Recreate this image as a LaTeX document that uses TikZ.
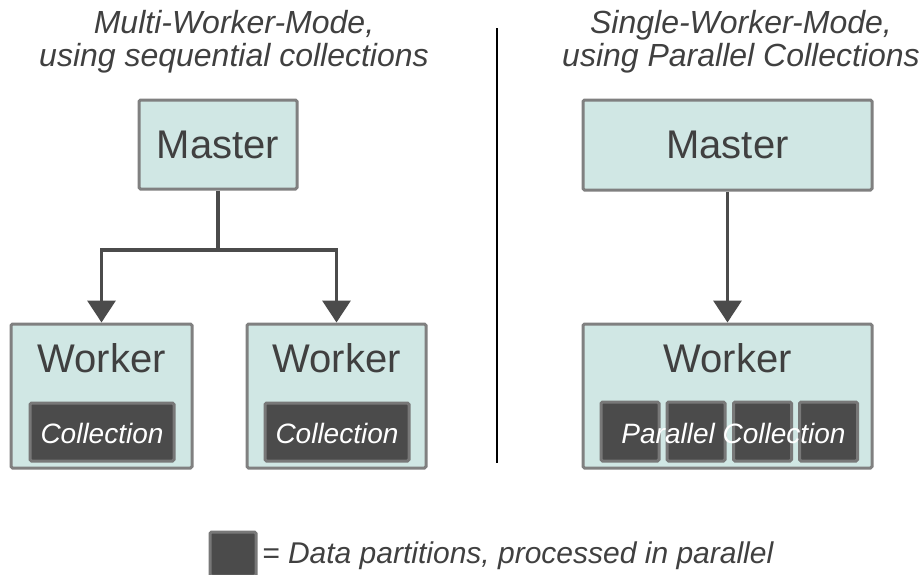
\documentclass[tikz,border=0pt]{standalone}
\usepackage{fontspec}
\setmainfont{Liberation Sans}
\usetikzlibrary{arrows.meta}
\definecolor{boxfill}{HTML}{D0E7E4}
\definecolor{boxline}{HTML}{808080}
\definecolor{partfill}{HTML}{4B4B4B}
\definecolor{partline}{HTML}{787878}
\definecolor{ink}{HTML}{404040}
\definecolor{wire}{HTML}{4B4B4B}
\tikzset{
  unitbox/.style={draw=boxline, fill=boxfill, line width=3pt, rounded corners=1.5pt,
    inner sep=0pt, text=ink, font=\fontsize{40}{48}\selectfont},
  partbox/.style={draw=partline, fill=partfill, line width=3pt, rounded corners=1.5pt, inner sep=0pt},
  boxlabel/.style={text=ink, font=\fontsize{40}{48}\selectfont, anchor=base, inner sep=0pt},
  partlabel/.style={text=white, font=\fontsize{28}{34}\selectfont\itshape, anchor=base, inner sep=0pt},
  heading/.style={text=ink, font=\fontsize{32}{33}\selectfont\itshape, align=center, inner sep=0pt},
  flow/.style={draw=wire, line width=3.5pt},
  flowarrow/.style={flow, -{Triangle[width=28pt,length=22pt]}},
}
\begin{document}
\begin{tikzpicture}[x=1pt, y=-1pt]
\useasboundingbox (0,0) rectangle (922,574);

% headings (base anchor sits on the second line)
\node[heading, anchor=base] (hL) at (234,66) {Multi-Worker-Mode,\\using sequential collections};
\node[heading, anchor=base] (hR) at (741,66) {Single-Worker-Mode,\\using Parallel Collections};

% divider
\coordinate (dTop) at (497,28);
\coordinate (dBot) at (497,463);
\draw[line width=1.2pt, black] (dTop) -- (dBot);

% left side: one master, two workers
\node[unitbox, minimum width=158pt, minimum height=89pt] (mL) at (218,144.5) {Master};
\node[unitbox, minimum width=181pt, minimum height=144pt] (wA) at (101.5,396) {};
\node[unitbox, minimum width=179pt, minimum height=144pt] (wB) at (336.5,396) {};
\node[boxlabel] (tA) at (101.5,372) {Worker};
\node[boxlabel] (tB) at (336.5,372) {Worker};
\node[partbox, minimum width=144pt, minimum height=58pt] (cA) at (102,432) {};
\node[partbox, minimum width=144pt, minimum height=58pt] (cB) at (337,432) {};
\node[partlabel] (lA) at (102,443) {Collection};
\node[partlabel] (lB) at (337,443) {Collection};

\coordinate (split) at (218,250);
\draw[flow] (mL.south) -- (split);
\draw[flowarrow] (split) -| (wA.north);
\draw[flowarrow] (split) -| (wB.north);

% right side: one master, one worker with a parallel collection
\node[unitbox, minimum width=289pt, minimum height=90pt] (mR) at (727.5,145) {Master};
\node[unitbox, minimum width=289pt, minimum height=144pt] (wC) at (727.5,396) {};
\node[boxlabel] (tC) at (727.5,372) {Worker};
\node[partbox, minimum width=58pt, minimum height=59pt] (p1) at (630,431.5) {};
\node[partbox, minimum width=58pt, minimum height=59pt] (p2) at (696,431.5) {};
\node[partbox, minimum width=58pt, minimum height=59pt] (p3) at (762.5,431.5) {};
\node[partbox, minimum width=58pt, minimum height=59pt] (p4) at (828.5,431.5) {};
\node[partlabel] (lC) at (733.5,443) {Parallel Collection};
\draw[flowarrow] (mR.south) -- (wC.north);

% legend
\node[partbox, minimum width=46pt, minimum height=44pt] (key) at (233,554) {};
\node[text=ink, font=\fontsize{30}{36}\selectfont\itshape, anchor=base west, inner sep=0pt] (keytext) at (262,563) {= Data partitions, processed in parallel};
\end{tikzpicture}
\end{document}
